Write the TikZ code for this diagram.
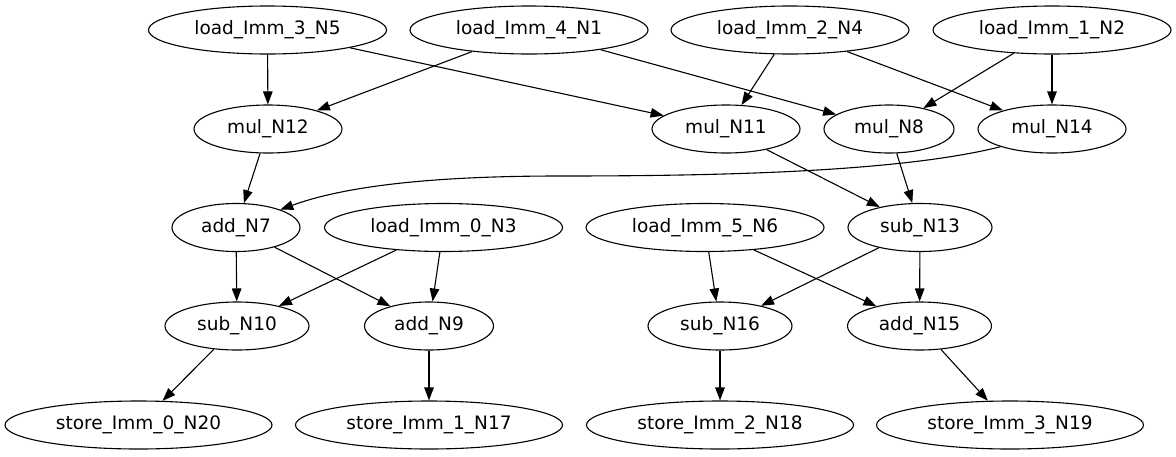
\documentclass[tikz,border=0pt]{standalone}
\usepackage{fontspec}
\setmainfont{DejaVu Sans}
\usetikzlibrary{shapes.geometric,arrows.meta}
\tikzset{
  nd/.style={draw, ellipse, line width=1.1pt, inner sep=0pt, minimum height=48pt,
    font=\fontsize{18.5}{22}\selectfont},
  ld/.style={nd, minimum width=238pt},
  st/.style={nd, minimum width=267pt},
  wd/.style={nd, minimum width=#1},
  ed/.style={line width=1.1pt, -{Triangle[length=13pt,width=9.5pt]}}
}
\begin{document}
\begin{tikzpicture}[x=1pt,y=-1pt]
\useasboundingbox (0,0) rectangle (1176,456);
% row 1
\node[ld] (n5) at (267.5,30) {load\_Imm\_3\_N5};
\node[ld] (n1) at (529,30) {load\_Imm\_4\_N1};
\node[ld] (n4) at (790,30) {load\_Imm\_2\_N4};
\node[ld] (n2) at (1052,30) {load\_Imm\_1\_N2};
% row 2
\node[wd=148pt] (n12) at (268,129) {mul\_N12};
\node[wd=148pt] (n11) at (726,129) {mul\_N11};
\node[wd=130pt] (n8) at (889,129) {mul\_N8};
\node[wd=148pt] (n14) at (1052,129) {mul\_N14};
% row 3
\node[wd=128pt] (n7) at (236,227.5) {add\_N7};
\node[ld] (n3) at (443.5,227.5) {load\_Imm\_0\_N3};
\node[ld] (n6) at (705,227.5) {load\_Imm\_5\_N6};
\node[wd=144pt] (n13) at (920,227.5) {sub\_N13};
% row 4
\node[wd=144pt] (n10) at (237,326) {sub\_N10};
\node[wd=129pt] (n9) at (429,326) {add\_N9};
\node[wd=144pt] (n16) at (720,326) {sub\_N16};
\node[wd=144pt] (n15) at (919.5,326) {add\_N15};
% row 5
\node[st] (n20) at (138.5,425) {store\_Imm\_0\_N20};
\node[st] (n17) at (429,425) {store\_Imm\_1\_N17};
\node[st] (n18) at (720,425) {store\_Imm\_2\_N18};
\node[st] (n19) at (1010,425) {store\_Imm\_3\_N19};
% edges
\draw[ed] (n5) -- (n12);
\draw[ed] (n1) -- (n12);
\draw[ed] (n5) -- (n11);
\draw[ed] (n4) -- (n11);
\draw[ed] (n1) -- (n8);
\draw[ed] (n4) -- (n14);
\draw[ed] (n2) -- (n8);
\draw[ed] (n2) -- (n14);
\draw[ed] (n12) -- (n7);
\draw[ed] (n14.199) .. controls (900,172) and (720,176) .. (560,176)
                    .. controls (420,176) and (340,188) .. (n7.22);
\draw[ed] (n11) -- (n13);
\draw[ed] (n8) -- (n13);
\draw[ed] (n7) -- (n10);
\draw[ed] (n7) -- (n9);
\draw[ed] (n3) -- (n10);
\draw[ed] (n3) -- (n9);
\draw[ed] (n6) -- (n16);
\draw[ed] (n6) -- (n15);
\draw[ed] (n13) -- (n16);
\draw[ed] (n13) -- (n15);
\draw[ed] (n10) -- (n20);
\draw[ed] (n9) -- (n17);
\draw[ed] (n16) -- (n18);
\draw[ed] (n15) -- (n19);
\end{tikzpicture}
\end{document}
